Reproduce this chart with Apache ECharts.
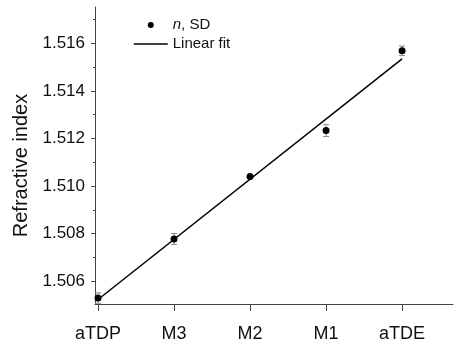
<!DOCTYPE html>
<html>
<head>
<meta charset="utf-8">
<script src="https://cdn.jsdelivr.net/npm/echarts@6/dist/echarts.min.js"></script>
<style>
  html, body { margin: 0; padding: 0; background: #fff; }
  #chart { width: 454px; height: 346px; }
</style>
</head>
<body>
<div id="chart"></div>
<script>
// data
const categories = ['aTDP', 'M3', 'M2', 'M1', 'aTDE'];
const nValues = [1.50530, 1.50778, 1.51040, 1.51233, 1.51568];
const nErrors = [0.00022, 0.00023, 0.00005, 0.00025, 0.00020];
const fitX = [0, 4];
const fitY = [1.50524, 1.51534];
const yMajorTicks = [1.506, 1.508, 1.510, 1.512, 1.514, 1.516];
const yMinorTicks = [1.507, 1.509, 1.511, 1.513, 1.515, 1.517];
const xTicks = [0, 1, 2, 3, 4];

const font = '"Liberation Sans", Arial, sans-serif';
const yMin = 1.50505, yMax = 1.51752;

let myChart = echarts.init(document.getElementById('chart'));

let option = {
    animation: false,
    grid: { left: 95, right: 1, top: 7, bottom: 42, outerBoundsMode: 'none' },
    legend: {
        orient: 'vertical',
        left: 133,
        top: 17,
        padding: 0,
        itemWidth: 34,
        itemHeight: 6,
        itemGap: 3,
        data: [
            { name: 'n, SD', icon: 'circle', itemStyle: { color: '#000', opacity: 1 } },
            {
                name: 'Linear fit',
                lineStyle: { color: '#000', width: 1.5 },
                itemStyle: { color: 'rgba(0,0,0,0)', borderWidth: 0 }
            }
        ],
        formatter: function (name) {
            return name === 'n, SD' ? '{i|n}, SD' : name;
        },
        textStyle: {
            fontFamily: font, fontSize: 15, color: '#111', lineHeight: 16,
            rich: { i: { fontStyle: 'italic', fontFamily: font, fontSize: 15, color: '#111' } }
        }
    },
    xAxis: {
        type: 'value',
        min: -0.04,
        max: 4.67,
        splitLine: { show: false },
        axisLine: { onZero: false, lineStyle: { color: '#444', width: 1 } },
        axisTick: { customValues: xTicks, length: 7, lineStyle: { color: '#444' } },
        axisLabel: {
            customValues: xTicks,
            margin: 21,
            fontFamily: font, fontSize: 18, color: '#111',
            formatter: function (v) { return categories[Math.round(v)]; }
        }
    },
    yAxis: [
        {
            type: 'value',
            min: yMin,
            max: yMax,
            name: 'Refractive index',
            nameLocation: 'middle',
            nameGap: 60,
            nameTextStyle: { fontFamily: font, fontSize: 20, color: '#111', padding: [0, 20, 0, 0] },
            splitLine: { show: false },
            axisLine: { show: true, onZero: false, lineStyle: { color: '#444', width: 1 } },
            axisTick: { show: true, customValues: yMajorTicks, length: 4, lineStyle: { color: '#444' } },
            axisLabel: {
                customValues: yMajorTicks,
                margin: 10,
                fontFamily: font, fontSize: 17, color: '#111',
                formatter: function (v) { return v.toFixed(3); }
            }
        },
        {
            // minor ticks only
            type: 'value',
            position: 'left',
            min: yMin,
            max: yMax,
            splitLine: { show: false },
            axisLine: { show: false, onZero: false },
            axisTick: { show: true, customValues: yMinorTicks, length: 2, lineStyle: { color: '#444' } },
            axisLabel: { show: false }
        }
    ],
    series: [
        {
            name: 'Linear fit',
            type: 'line',
            symbol: 'none',
            lineStyle: { color: '#000', width: 1.5 },
            itemStyle: { color: '#000' },
            data: fitX.map((x, i) => [x, fitY[i]]),
            z: 2
        },
        {
            name: 'error',
            type: 'custom',
            renderItem: function (params, api) {
                let x = api.value(0);
                let lo = api.coord([x, api.value(1)]);
                let hi = api.coord([x, api.value(2)]);
                let w = 3;
                let st = { stroke: '#888', lineWidth: 1 };
                return {
                    type: 'group',
                    children: [
                        { type: 'line', shape: { x1: lo[0], y1: lo[1], x2: hi[0], y2: hi[1] }, style: st },
                        { type: 'line', shape: { x1: lo[0] - w, y1: lo[1], x2: lo[0] + w, y2: lo[1] }, style: st },
                        { type: 'line', shape: { x1: hi[0] - w, y1: hi[1], x2: hi[0] + w, y2: hi[1] }, style: st }
                    ]
                };
            },
            data: nValues.map((v, i) => [i, v - nErrors[i], v + nErrors[i]]),
            z: 3
        },
        {
            name: 'n, SD',
            type: 'scatter',
            symbol: 'circle',
            symbolSize: 7,
            itemStyle: { color: '#000', opacity: 1 },
            data: nValues.map((v, i) => [i, v]),
            z: 4
        }
    ]
};
myChart.setOption(option);
window.addEventListener('resize', function () { myChart.resize(); });
</script>
</body>
</html>
